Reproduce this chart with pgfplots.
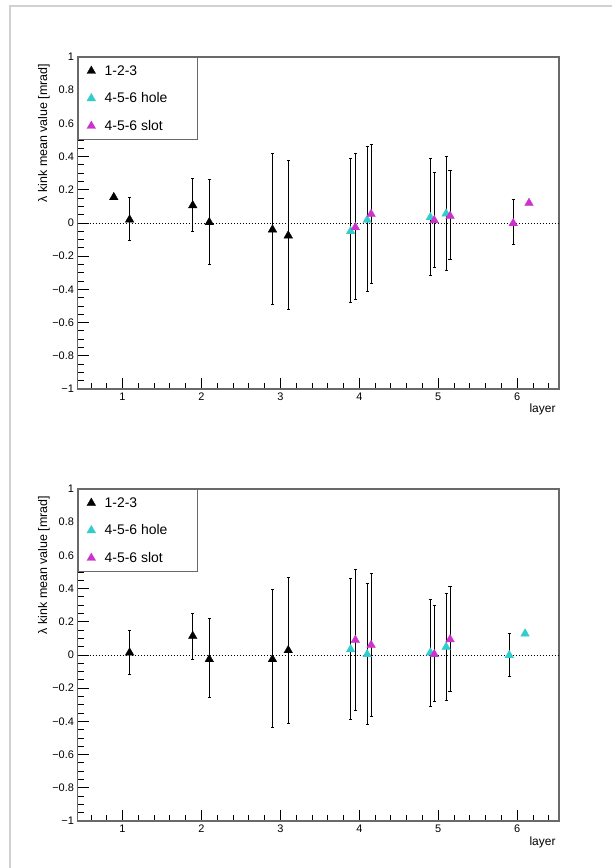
\documentclass[border=0pt]{standalone}
\usepackage{fontspec}
\setmainfont{Liberation Sans}
\usepackage{pgfplots}
\pgfplotsset{compat=1.18}
\definecolor{rcyan}{RGB}{51,204,204}
\definecolor{rmag}{RGB}{204,51,204}
\definecolor{framegray}{RGB}{105,105,105}

\pgfplotsset{
  rootstyle/.style={
    scale only axis, width=481.5bp, height=332bp,
    xmin=0.43, xmax=6.53, ymin=-1, ymax=1,
    xtick={1,2,3,4,5,6},
    ytick={-1,-0.8,-0.6,-0.4,-0.2,0,0.2,0.4,0.6,0.8,1},
    yticklabels={−1,−0.8,−0.6,−0.4,−0.2,0,0.2,0.4,0.6,0.8,1},
    minor xtick={0.6,0.8,1.2,1.4,1.6,1.8,2.2,2.4,2.6,2.8,3.2,3.4,3.6,3.8,4.2,4.4,4.6,4.8,5.2,5.4,5.6,5.8,6.2,6.4},
    minor ytick={-0.95,-0.9,-0.85,-0.75,-0.7,-0.65,-0.55,-0.5,-0.45,-0.35,-0.3,-0.25,-0.15,-0.1,-0.05,0.05,0.1,0.15,0.25,0.3,0.35,0.45,0.5,0.55,0.65,0.7,0.75,0.85,0.9,0.95},
    tick align=inside, tick pos=left,
    major tick length=11bp, minor tick length=6bp,
    axis line style={framegray, line width=1.2bp},
    tick style={black, line width=0.8bp},
    /pgf/number format/assume math mode=true,
    tick label style={font=\fontsize{11}{13}\selectfont},
    ylabel={λ kink mean value [mrad]},
    xlabel={layer},
    every axis y label/.style={at={(axis description cs:-0.0696,0.99)}, rotate=90, anchor=east, font=\fontsize{12.5}{14}\selectfont},
    every axis x label/.style={at={(axis description cs:1,-0.063)}, anchor=east, font=\fontsize{12}{14}\selectfont},
    legend style={at={(axis description cs:0,1)}, anchor=north west, draw=framegray, line width=0.8bp, fill=white,
      font=\fontsize{14}{16}\selectfont, row sep=12bp, inner xsep=2bp, inner ysep=6bp},
    legend cell align=left,
  },
  pts/.style={only marks, mark=triangle*, mark size=5bp, mark options={solid, line width=0.3bp, draw=#1, fill=#1},
    legend image code/.code={\path (0bp,0bp) coordinate (legL) (22bp,0bp) coordinate (legR); \draw[##1] plot coordinates {(11bp,0bp)};},
    error bars/.cd, y dir=both, y explicit,
    error bar style={black, line width=0.7bp},
    error mark options={rotate=90, black, mark size=1.6bp, line width=0.7bp}},
  zeroline/.style={black, line width=0.9bp, dash pattern=on 1.4bp off 1.6bp, forget plot},
}

\begin{document}
\begin{tikzpicture}[x=1bp,y=1bp]
\useasboundingbox (0,0) rectangle (612,868);
\draw[black!18, line width=2bp] (10,0) -- (10,862) -- (612,862);

% ---------------- top panel ----------------
\begin{axis}[rootstyle, at={(77.5bp,479bp)}, anchor=south west]
\addplot[zeroline] coordinates {(0.43,0) (6.53,0)};
\addplot[pts=black] coordinates {
  (0.89,0.155) += (0,0) -= (0,0)
  (1.09,0.020) += (0,0.135) -= (0,0.126)
  (1.89,0.106) += (0,0.161) -= (0,0.156)
  (2.10,0.004) += (0,0.256) -= (0,0.254)
  (2.90,-0.040) += (0,0.460) -= (0,0.450)
  (3.10,-0.076) += (0,0.456) -= (0,0.444)
};
\addlegendentry{1-2-3}
\addplot[pts=rcyan] coordinates {
  (3.89,-0.050) += (0,0.438) -= (0,0.426)
  (4.10,0.018) += (0,0.442) -= (0,0.428)
  (4.90,0.034) += (0,0.356) -= (0,0.349)
  (5.10,0.056) += (0,0.344) -= (0,0.339)
};
\addlegendentry{4-5-6 hole\hspace*{26bp}}
\addplot[pts=rmag] coordinates {
  (3.95,-0.026) += (0,0.444) -= (0,0.432)
  (4.15,0.054) += (0,0.422) -= (0,0.419)
  (4.95,0.016) += (0,0.291) -= (0,0.281)
  (5.15,0.042) += (0,0.273) -= (0,0.262)
  (5.95,-0.002) += (0,0.142) -= (0,0.126)
  (6.15,0.120) += (0,0) -= (0,0)
};
\addlegendentry{4-5-6 slot}
\end{axis}

% ---------------- bottom panel ----------------
\begin{axis}[rootstyle, at={(77.5bp,47bp)}, anchor=south west]
\addplot[zeroline] coordinates {(0.43,0) (6.53,0)};
\addplot[pts=black] coordinates {
  (1.09,0.014) += (0,0.134) -= (0,0.130)
  (1.89,0.114) += (0,0.136) -= (0,0.140)
  (2.10,-0.026) += (0,0.246) -= (0,0.230)
  (2.90,-0.026) += (0,0.424) -= (0,0.410)
  (3.10,0.028) += (0,0.442) -= (0,0.438)
};
\addlegendentry{1-2-3}
\addplot[pts=rcyan] coordinates {
  (3.89,0.034) += (0,0.430) -= (0,0.424)
  (4.10,0.004) += (0,0.430) -= (0,0.424)
  (4.90,0.014) += (0,0.320) -= (0,0.326)
  (5.10,0.048) += (0,0.326) -= (0,0.320)
  (5.90,-0.002) += (0,0.130) -= (0,0.128)
  (6.10,0.128) += (0,0) -= (0,0)
};
\addlegendentry{4-5-6 hole\hspace*{26bp}}
\addplot[pts=rmag] coordinates {
  (3.95,0.090) += (0,0.424) -= (0,0.422)
  (4.15,0.060) += (0,0.434) -= (0,0.432)
  (4.95,0.004) += (0,0.294) -= (0,0.284)
  (5.15,0.094) += (0,0.318) -= (0,0.314)
};
\addlegendentry{4-5-6 slot}
\end{axis}
\end{tikzpicture}
\end{document}
